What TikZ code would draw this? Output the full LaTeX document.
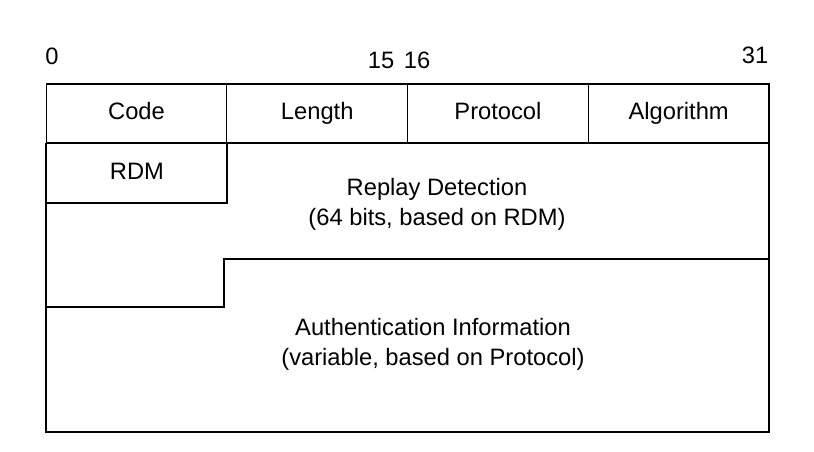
\documentclass[tikz,border=0pt]{standalone}
\usepackage{fontspec}
\setmainfont{Liberation Sans}
\usetikzlibrary{positioning}
\begin{document}
\begin{tikzpicture}[x=0.02cm,y=-0.02cm, semithick,
    field/.style={draw=black,minimum width=3.615cm,minimum height=1.18cm,inner sep=0pt,outer sep=0pt,
      text height=1.6ex,text depth=0.4ex,font=\fontsize{13.5}{17}\selectfont},
    label/.style={font=\fontsize{13.5}{17}\selectfont,align=center},
    bit/.style={font=\fontsize{13.5}{17}\selectfont,inner sep=0pt}]
  \useasboundingbox (0,0) rectangle (814,452);
  % bit numbers
  \node[bit] at (52,56) (b0) {0};
  \node[bit] at (381,60) (b15) {15};
  \node[bit] at (417,60) (b16) {16};
  \node[bit] at (755,55) (b31) {31};
  % first word
  \node[field] at (136.5,113.5) (code) {Code};
  \node[field,right=0pt of code] (length) {Length};
  \node[field,right=0pt of length] (proto) {Protocol};
  \node[field,right=0pt of proto] (algo) {Algorithm};
  % rest of the packet
  \draw (46,143) -- (46,432) -- (769,432) -- (769,143);
  \draw (46,203) -- (227,203) -- (227,143);
  \draw (46,307) -- (224,307) -- (224,259) -- (769,259);
  \node[label] at (137,171) (rdm) {RDM};
  \node[label] at (437,204) (replay) {Replay Detection\\(64 bits, based on RDM)};
  \node[label] at (433,344) (auth) {Authentication Information\\(variable, based on Protocol)};
\end{tikzpicture}
\end{document}
